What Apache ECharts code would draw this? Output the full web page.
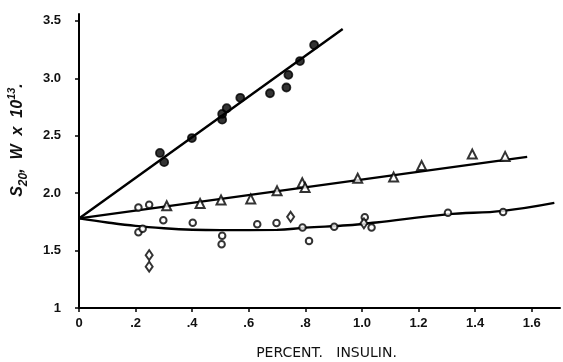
<!DOCTYPE html>
<html>
<head>
<meta charset="utf-8">
<script src="https://cdn.jsdelivr.net/npm/echarts@6/dist/echarts.min.js"></script>
<style>
  html, body { margin: 0; padding: 0; background: #fff; }
  #main { width: 563px; height: 362px; }
</style>
</head>
<body>
<div id="main"></div>
<script>
// filled circles
const solidPts = [
  [0.286, 2.35], [0.301, 2.27], [0.399, 2.48], [0.506, 2.64], [0.506, 2.69],
  [0.522, 2.74], [0.570, 2.83], [0.675, 2.87], [0.733, 2.92], [0.740, 3.03],
  [0.781, 3.15], [0.831, 3.29]
]
// open triangles
const trianglePts = [
  [0.31, 1.89], [0.428, 1.91], [0.502, 1.94], [0.607, 1.95], [0.700, 2.02],
  [0.789, 2.09], [0.799, 2.05], [0.985, 2.13], [1.112, 2.14], [1.211, 2.24],
  [1.390, 2.34], [1.506, 2.32]
]
// open circles
const circlePts = [
  [0.21, 1.876], [0.248, 1.90], [0.21, 1.66], [0.225, 1.69], [0.298, 1.765],
  [0.402, 1.742], [0.506, 1.63], [0.504, 1.555], [0.630, 1.73], [0.698, 1.74],
  [0.790, 1.70], [0.813, 1.583], [0.902, 1.707], [1.01, 1.79], [1.034, 1.70],
  [1.304, 1.83], [1.499, 1.835]
]
// open diamonds
const diamondPts = [
  [0.248, 1.46], [0.248, 1.36], [0.748, 1.794], [1.007, 1.737]
]
// fitted curves
const fitSolid = [[0, 1.78], [0.932, 3.43]]
const fitTriangle = [[0, 1.78], [1.584, 2.316]]
const fitCircle = [
  [0, 1.78], [0.1, 1.745], [0.2, 1.715], [0.3, 1.695], [0.4, 1.682], [0.5, 1.678],
  [0.7, 1.68], [0.8, 1.70], [0.95, 1.72], [1.05, 1.745], [1.3, 1.815], [1.5, 1.846], [1.68, 1.915]
]

const font = 'Liberation Sans'
const chart = echarts.init(document.getElementById('main'))

const lineSeries = (data, smooth) => ({
  type: 'line',
  data: data,
  smooth: smooth,
  symbol: 'none',
  lineStyle: { color: '#000', width: 2.4 },
  z: 1
})
const pointSeries = (data, symbol, size) => ({
  type: 'scatter',
  data: data,
  symbol: symbol,
  symbolSize: size,
  itemStyle: { color: '#000', borderColor: '#000', borderWidth: 1.8 },
  z: 3
})

chart.setOption({
  animation: false,
  grid: { left: 79, right: 3, top: 14, bottom: 54, outerBoundsMode: 'none' },
  xAxis: {
    type: 'value',
    min: 0,
    max: 1.7,
    interval: 0.2,
    name: 'PERCENT.   INSULIN.',
    nameLocation: 'middle',
    nameGap: 38,
    nameTextStyle: { fontFamily: 'DejaVu Sans', fontSize: 14, color: '#111', padding: [0, 0, 0, 14] },
    axisLine: { lineStyle: { color: '#000', width: 2 } },
    axisTick: { length: 4, lineStyle: { color: '#000', width: 1.5 } },
    axisLabel: {
      showMaxLabel: false,
      margin: 9,
      fontFamily: font,
      fontSize: 13,
      fontWeight: 'bold',
      color: '#111',
      formatter: v => v === 0 ? '0' : (v < 1 ? v.toFixed(1).slice(1) : v.toFixed(1))
    },
    splitLine: { show: false }
  },
  yAxis: {
    type: 'value',
    min: 1,
    max: 3.56,
    interval: 0.5,
    axisLine: { show: true, lineStyle: { color: '#000', width: 2 } },
    axisTick: { show: true, length: 4, lineStyle: { color: '#000', width: 1.5 } },
    axisLabel: {
      showMaxLabel: false,
      margin: 18,
      fontFamily: font,
      fontSize: 13,
      fontWeight: 'bold',
      color: '#111',
      formatter: v => v === 1 ? '1' : v.toFixed(1)
    },
    splitLine: { show: false }
  },
  graphic: [{
    type: 'text',
    x: 18,
    y: 140,
    rotation: Math.PI / 2,
    style: {
      text: '{a|S}{b|20}{a|,  W  x  10}{c|13}{a|.}',
      align: 'center',
      verticalAlign: 'middle',
      rich: {
        a: { fontFamily: font, fontStyle: 'italic', fontWeight: 'bold', fontSize: 16, lineHeight: 24, fill: '#111', verticalAlign: 'middle' },
        b: { fontFamily: font, fontStyle: 'italic', fontWeight: 'bold', fontSize: 12, lineHeight: 24, fill: '#111', verticalAlign: 'bottom' },
        c: { fontFamily: font, fontStyle: 'italic', fontWeight: 'bold', fontSize: 11, lineHeight: 24, fill: '#111', verticalAlign: 'top' }
      }
    }
  }],
  series: [
    lineSeries(fitSolid, false),
    lineSeries(fitTriangle, false),
    lineSeries(fitCircle, 0.4),
    pointSeries(solidPts, 'circle', 8),
    pointSeries(trianglePts, 'emptyTriangle', 9),
    pointSeries(circlePts, 'emptyCircle', 6.5),
    pointSeries(diamondPts, 'emptyDiamond', [7, 10])
  ]
})
</script>
</body>
</html>
